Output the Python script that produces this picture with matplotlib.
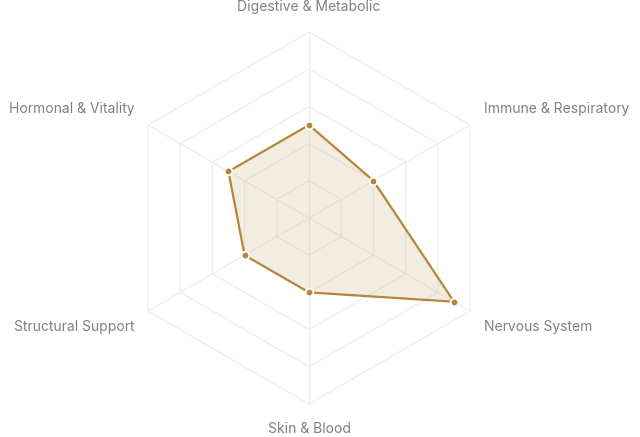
import numpy as np
import matplotlib.pyplot as plt

# radar of body-system scores (0-5 scale, 5 grid rings)
categories = ["Digestive & Metabolic", "Immune & Respiratory", "Nervous System",
              "Skin & Blood", "Structural Support", "Hormonal & Vitality"]
values = [2.5, 2.0, 4.5, 2.0, 2.0, 2.5]
ring_levels = [1, 2, 3, 4, 5]

line_col = "#b5863a"
grid_col = "#eeeeee"
text_col = "#808080"

plt.rcParams['font.family'] = ['Inter', 'DejaVu Sans']

n = len(categories)
angles = np.linspace(0, 2 * np.pi, n, endpoint=False)
closed_a = np.append(angles, angles[0])

fig = plt.figure(figsize=(6.4, 4.37), dpi=100)
ax = fig.add_axes([0.1922, 0.0755, 0.58125, 0.8513], projection='polar')
ax.set_theta_zero_location('N')
ax.set_theta_direction(-1)
ax.set_ylim(0, 5)
ax.axis('off')

# hexagon rings + spokes
for lv in ring_levels:
    ax.plot(closed_a, [lv] * (n + 1), color=grid_col, lw=0.9, zorder=1)
for a in angles:
    ax.plot([a, a], [0, ring_levels[-1]], color=grid_col, lw=0.9, zorder=1)

vals = values + values[:1]
ax.fill(closed_a, vals, color=line_col, alpha=0.15, lw=0, zorder=2)
ax.plot(closed_a, vals, color=line_col, lw=1.6, zorder=3)
ax.plot(angles, values, 'o', color=line_col, ms=5.5, mec='white', mew=1.3, zorder=4)

# labels placed just outside the outer vertices
offsets = [(0, 18, 'center', 'center'), (10, 11.5, 'left', 'center'),
           (10, -11.5, 'left', 'center'), (0, -18, 'center', 'center'),
           (-10, -11.5, 'right', 'center'), (-10, 11.5, 'right', 'center')]
for a, lab, (dx, dy, ha, va) in zip(angles, categories, offsets):
    ax.annotate(lab, xy=(a, ring_levels[-1]), xytext=(dx, dy),
                textcoords='offset points', ha=ha, va=va,
                fontsize=10, color=text_col, annotation_clip=False)

fig.savefig("out.png", dpi=100)
